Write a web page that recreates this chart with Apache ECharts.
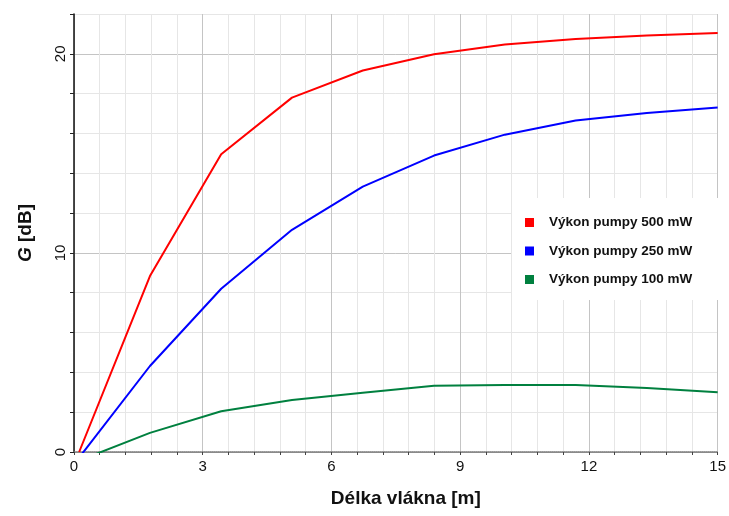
<!DOCTYPE html>
<html>
<head>
<meta charset="utf-8">
<script src="https://cdn.jsdelivr.net/npm/echarts@6/dist/echarts.min.js"></script>
<style>html,body{margin:0;padding:0;background:#fff}#c{width:729px;height:516px}</style>
</head>
<body>
<div id="c"></div>
<script>
// Fibre length [m] at which the curves were sampled
const lengths = [0.12, 1.77, 3.43, 5.08, 6.73, 8.39, 10.04, 11.69, 13.35, 15];
// Gain G [dB]
const gain500 = [0, 8.84, 14.96, 17.8, 19.16, 19.98, 20.47, 20.75, 20.92, 21.05];
const gain250 = [-0.28, 4.32, 8.2, 11.16, 13.33, 14.89, 15.94, 16.65, 17.03, 17.3];
const gain100 = [-0.43, 0.96, 2.05, 2.61, 2.98, 3.33, 3.37, 3.37, 3.22, 3.0];
const seriesNames = ['Výkon pumpy 500 mW', 'Výkon pumpy 250 mW', 'Výkon pumpy 100 mW'];
const seriesColors = ['#ff0000', '#0000ff', '#00803f'];
const xTickLabels = [0, 3, 6, 9, 12, 15];
const yTickLabels = [0, 10, 20];

const FONT = 'Arial, "Liberation Sans", sans-serif';
const majorX = '#c4c4c4', minorX = '#e6e6e6';

function pairs(ys) { return lengths.map((x, i) => [x, ys[i]]); }
const allGains = [gain500, gain250, gain100];

const chart = echarts.init(document.getElementById('c'), null, {renderer: 'canvas'});
chart.setOption({
  animation: false,
  backgroundColor: '#fff',
  grid: {left: 74, right: 11, top: 14, bottom: 64, containLabel: false},
  legend: {
    orient: 'vertical',
    left: 512, top: 198,
    backgroundColor: '#fff',
    padding: [17, 26, 13, 13],
    itemWidth: 9, itemHeight: 9, itemGap: 13.5,
    icon: 'rect',
    data: seriesNames,
    textStyle: {fontFamily: FONT, fontWeight: 'bold', fontSize: 13.5, color: '#111', lineHeight: 15, padding: [0, 0, 0, 10]}
  },
  xAxis: {
    type: 'value', min: 0, max: 15, interval: 0.6,
    name: 'Délka vlákna [m]', nameLocation: 'middle', nameGap: 37,
    nameTextStyle: {fontFamily: FONT, fontWeight: 'bold', fontSize: 19, color: '#111', padding: [0, 0, 0, 20]},
    axisLine: {show: true, onZero: false, lineStyle: {color: '#777', type: [1, 1], width: 1.5}},
    axisTick: {show: true, length: 3, lineStyle: {color: '#444'}},
    axisLabel: {
      fontFamily: FONT, fontSize: 15, color: '#111', margin: 7,
      formatter: v => xTickLabels.some(t => Math.abs(t - v) < 1e-6) ? String(Math.round(v)) : ''
    },
    splitLine: {show: true, lineStyle: {color: [majorX, minorX, minorX, minorX, minorX], width: 1}}
  },
  yAxis: {
    type: 'value', min: 0, max: 22, interval: 2,
    name: '{i|G} [dB]', nameLocation: 'middle', nameGap: 39, nameRotate: 90,
    nameTextStyle: {fontFamily: FONT, fontWeight: 'bold', fontSize: 19, color: '#111',
      rich: {i: {fontFamily: FONT, fontWeight: 'bold', fontStyle: 'italic', fontSize: 19, color: '#111'}}},
    axisLine: {show: true, lineStyle: {color: '#111', width: 1.5}},
    axisTick: {show: true, length: 4, lineStyle: {color: '#222'}},
    axisLabel: {
      fontFamily: FONT, fontSize: 15, color: '#111', margin: 6, rotate: 90,
      formatter: v => yTickLabels.some(t => Math.abs(t - v) < 1e-6) ? String(Math.round(v)) : ''
    },
    splitLine: {show: true, lineStyle: {color: [majorX, minorX, minorX, minorX, minorX], width: 1}}
  },
  series: seriesNames.map((n, k) => ({
    name: n, type: 'line', data: pairs(allGains[k]),
    showSymbol: false, symbol: 'rect', clip: true,
    itemStyle: {color: seriesColors[k]},
    lineStyle: {color: seriesColors[k], width: 2}
  }))
});
</script>
</body>
</html>
